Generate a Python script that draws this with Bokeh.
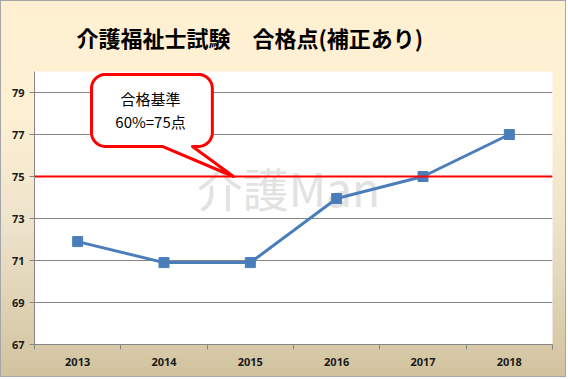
import numpy as np
from bokeh.plotting import figure
from bokeh.models import Range1d, FixedTicker, Span
from bokeh.embed import file_html
from bokeh.resources import INLINE
from bokeh.core.properties import value

# ---------------- data ----------------
title_text = "介護福祉士試験　合格点(補正あり)"
years = ["2013", "2014", "2015", "2016", "2017", "2018"]
scores = [71.9, 70.9, 70.9, 73.95, 75.0, 77.0]
y_ticks = [67, 69, 71, 73, 75, 77, 79]
pass_line = 75
callout_lines = ["合格基準", "60%=75点"]
watermark = "介護Man"

# ---------------- layout ----------------
W, H = 566, 377
ML, MR, MT, MB = 33, 15, 70, 34
Y0, Y1 = 67, 80
n = len(years)
sx = (W - ML - MR) / n          # px per x unit
sy = (H - MT - MB) / (Y1 - Y0)  # px per y unit

p = figure(width=W, height=H, output_backend="svg", toolbar_location=None,
           x_range=Range1d(0, n), y_range=Range1d(Y0, Y1),
           min_border_left=ML, min_border_right=MR,
           min_border_top=MT, min_border_bottom=MB)
p.background_fill_color = "white"
p.border_fill_alpha = 0
p.outline_line_color = None
p.styles = {"background": "linear-gradient(to bottom, #FFF0D2 0%, #FEF0D3 30%, #EDE3CB 60%, #D2C39F 100%)",
            "border": "1px solid #A6A6A6"}

# title
p.title.text = title_text
p.title.align = "left"
p.title.vertical_align = "middle"
p.title.text_font = "Noto Sans CJK JP"
p.title.text_font_style = "bold"
p.title.text_font_size = "22px"
p.title.text_color = "black"
p.title.offset = 42
p.title.standoff = 35

centers = [i + 0.5 for i in range(n)]
label_font = "Noto Sans"

# x axis
p.xaxis.ticker = FixedTicker(ticks=centers, minor_ticks=list(range(n + 1)))
p.xaxis.major_label_overrides = {c: y for c, y in zip(centers, years)}
p.xaxis.major_tick_out = 0
p.xaxis.major_tick_in = 0
p.xaxis.minor_tick_out = 5
p.xaxis.minor_tick_in = 0
p.xaxis.minor_tick_line_color = "#868686"
p.xaxis.axis_line_color = "#868686"
p.xaxis.major_label_standoff = 8
# y axis
p.yaxis.ticker = FixedTicker(ticks=y_ticks, minor_ticks=[])
p.yaxis.major_tick_out = 5
p.yaxis.major_tick_in = 0
p.yaxis.major_tick_line_color = "#868686"
p.yaxis.axis_line_color = "#868686"
p.yaxis.major_label_standoff = 5
for ax in (p.xaxis, p.yaxis):
    ax.major_label_text_font = label_font
    ax.major_label_text_font_style = "bold"
    ax.major_label_text_font_size = "11px"
    ax.major_label_text_color = "#1A1A1A"

p.xgrid.visible = False
p.ygrid.ticker = FixedTicker(ticks=y_ticks)
p.ygrid.grid_line_color = "#868686"
p.ygrid.grid_line_width = 1

# watermark
p.text(x=[2.94], y=[74.5], text=[watermark], text_align="center", text_baseline="middle",
       text_font=value("Noto Sans CJK JP"), text_font_size="46px", text_color="#E2E2E2",
       text_font_style="normal")

# pass line (drawn over the watermark)
p.add_layout(Span(location=pass_line, dimension="width", line_color="#FF0000",
                  line_width=2, level="glyph"))

# data line
p.line(centers, scores, line_color="#4A7EBB", line_width=3)
p.scatter(centers, scores, marker="square", size=10, fill_color="#4A7EBB", line_color="#4A7EBB")

# callout bubble (geometry in px -> data)
L, R, T, B = 0.66 * sx, 2.06 * sx, 79.86 * sy, 76.43 * sy
pb1, pb2 = 1.48 * sx, 1.83 * sx
tipx, tipy = 2.305 * sx, pass_line * sy
r = 14.0
def arc(cx, cy, a0, a1):
    a = np.radians(np.linspace(a0, a1, 12))
    return list(cx + r * np.cos(a)), list(cy + r * np.sin(a))
px, py = [], []
for seg in [arc(L + r, T - r, 90, 180), arc(L + r, B + r, 180, 270)]:
    px += seg[0]; py += seg[1]
px += [pb1, tipx, pb2]; py += [B, tipy, B]
for seg in [arc(R - r, B + r, 270, 360), arc(R - r, T - r, 0, 90)]:
    px += seg[0]; py += seg[1]
p.patch([v / sx for v in px], [v / sy for v in py], fill_color="white",
        line_color="#FF0000", line_width=3, line_join="round")
p.text(x=[1.344, 1.344], y=[78.71, 77.62], text=callout_lines, text_align="center",
       text_baseline="middle", text_font=value("Noto Sans CJK JP"), text_font_size="15px",
       text_color="black")

open("out.html", "w").write(file_html(p, INLINE))
